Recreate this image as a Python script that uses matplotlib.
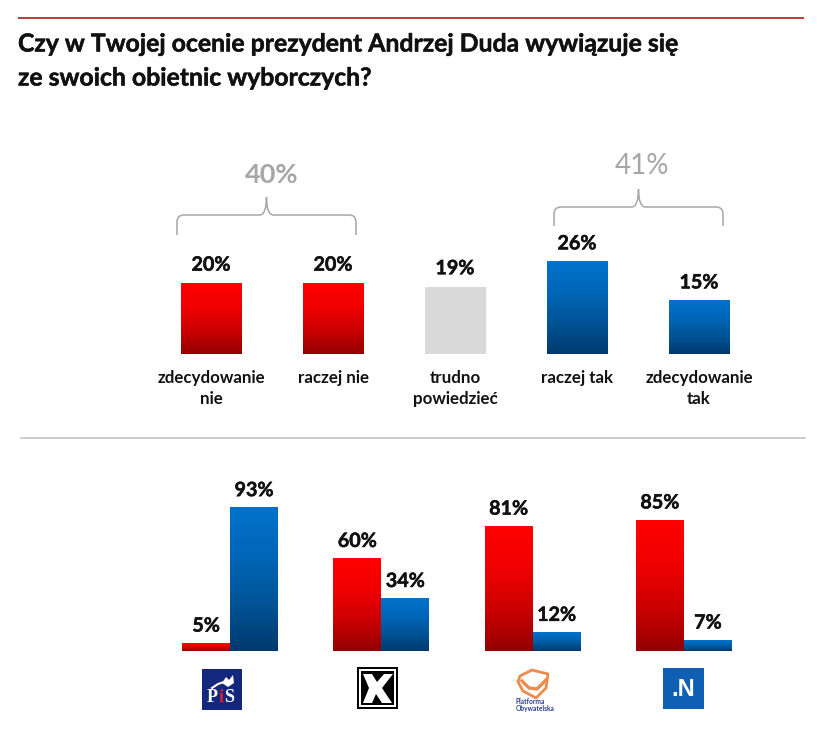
import numpy as np
import matplotlib
matplotlib.use('Agg')
import matplotlib.pyplot as plt
import matplotlib.patheffects as pe
from matplotlib.patches import Rectangle, Polygon, PathPatch
from matplotlib.path import Path

plt.rcParams['font.family'] = ['Lato', 'DejaVu Sans']

W, H = 824, 737

title_lines = ["Czy w Twojej ocenie prezydent Andrzej Duda wywiązuje się",
               "ze swoich obietnic wyborczych?"]

top_labels = ["zdecydowanie\nnie", "raczej nie", "trudno\npowiedzieć", "raczej tak", "zdecydowanie\ntak"]
top_values = [20, 20, 19, 26, 15]
top_kinds = ["red", "red", "grey", "blue", "blue"]
brace_labels = ["40%", "41%"]

parties = ["PiS", "Kukiz", "PO", "N"]
no_values = [5, 60, 81, 85]
yes_values = [93, 34, 12, 7]

gradients = {"red": ["#ff0000", "#f00000", "#cc0000", "#940000"],
             "blue": ["#0072cc", "#0066b8", "#005496", "#003a6e"]}
heavy = [pe.withStroke(linewidth=0.35, foreground='#111111')]


def px_axes(fig, x0, x1, y_top, y_bottom):
    # axes placed with reference pixel edges
    return fig.add_axes([x0 / W, 1 - y_bottom / H, (x1 - x0) / W, (y_bottom - y_top) / H])


def gradient_bars(ax, bars, kinds):
    ramp_cols = {k: matplotlib.colors.LinearSegmentedColormap.from_list(k, v[::-1]) for k, v in gradients.items()}
    ramp = np.linspace(0, 1, 128).reshape(-1, 1)
    xlim, ylim = ax.get_xlim(), ax.get_ylim()
    for bar, kind in zip(bars, kinds):
        if kind not in ramp_cols:
            continue
        x, w, h = bar.get_x(), bar.get_width(), bar.get_height()
        ax.imshow(ramp, cmap=ramp_cols[kind], origin='lower', aspect='auto',
                  extent=(x, x + w, 0, h), zorder=2)
    ax.set_xlim(xlim)
    ax.set_ylim(ylim)


fig = plt.figure(figsize=(W / 100, H / 100), dpi=100, facecolor='white')

# upper chart
ax1 = px_axes(fig, 150, 760, 200, 354)
x1 = np.arange(len(top_values))
ax1.set_xlim(-0.5, 4.5)
ax1.set_ylim(0, 154 / 3.55)
bars1 = ax1.bar(x1, top_values, width=0.5, color='#d9d9d9', zorder=1)
gradient_bars(ax1, bars1, top_kinds)
for xi, v in zip(x1, top_values):
    ax1.annotate(f"{v}%", (xi, v), xytext=(0, 6), textcoords='offset points', ha='center', va='bottom',
                 fontsize=14.2, fontweight='bold', color='#111111', path_effects=heavy)
for xi, lab in zip(x1, top_labels):
    ax1.annotate(lab, (xi, 0), xytext=(0, -11.5), textcoords='offset points', ha='center', va='top',
                 fontsize=12.2, fontweight='bold', color='#111111', linespacing=1.4, annotation_clip=False)
ax1.axis('off')

# lower chart
ax2 = px_axes(fig, 154.5, 759.5, 480, 651)
x2 = np.arange(len(parties))
ax2.set_xlim(-0.5, 3.5)
ax2.set_ylim(0, 171 / 1.54)
bw = 48 / 151.3
bars_no = ax2.bar(x2 - bw / 2, no_values, width=bw, color='#ff0000', zorder=1)
bars_yes = ax2.bar(x2 + bw / 2, yes_values, width=bw, color='#0072cc', zorder=1)
gradient_bars(ax2, bars_no, ["red"] * 4)
gradient_bars(ax2, bars_yes, ["blue"] * 4)
for xi, n, y in zip(x2, no_values, yes_values):
    for pos, v in ((xi - bw / 2, n), (xi + bw / 2, y)):
        ax2.annotate(f"{v}%", (pos, v), xytext=(0, 5.5), textcoords='offset points', ha='center', va='bottom',
                     fontsize=14.2, fontweight='bold', color='#111111', path_effects=heavy)
ax2.axis('off')

# overlay in pixel coordinates: rules, title, braces, logos
ov = fig.add_axes([0, 0, 1, 1], zorder=5)
ov.set_xlim(0, W)
ov.set_ylim(H, 0)
ov.axis('off')
ov.patch.set_alpha(0)

ov.plot([19, 803], [18, 18], color='#c0393b', lw=1.4)
ov.plot([21, 805], [438, 438], color='#c4c4c4', lw=1.2)

ov.text(18, 44, title_lines[0], fontsize=17.85, fontweight='bold', color='#111111', va='center', path_effects=heavy)
ov.text(18, 78, title_lines[1], fontsize=17.85, fontweight='bold', color='#111111', va='center', path_effects=heavy)


def brace(x0, x1, y_end, y_bar, y_tip):
    xm = (x0 + x1) / 2
    r = 7
    verts = [(x0, y_end), (x0, y_bar + r), (x0, y_bar), (x0 + r, y_bar),
             (xm - r, y_bar), (xm, y_bar), (xm, y_tip),
             (xm, y_bar), (xm + r, y_bar),
             (x1 - r, y_bar), (x1, y_bar), (x1, y_bar + r), (x1, y_end)]
    codes = [Path.MOVETO, Path.LINETO, Path.CURVE3, Path.CURVE3,
             Path.LINETO, Path.CURVE3, Path.CURVE3,
             Path.CURVE3, Path.CURVE3,
             Path.LINETO, Path.CURVE3, Path.CURVE3, Path.LINETO]
    ov.add_patch(PathPatch(Path(verts, codes), fc='none', ec='#a6a6a6', lw=1.1))


brace(177, 356, 235, 215, 197)
brace(554, 723, 226, 207, 189)
ov.text(272, 175, brace_labels[0], fontsize=19.5, fontweight='bold', color='#a6a6a6', ha='center', va='center')
ov.text(642, 166, brace_labels[1], fontsize=20, color='#a6a6a6', ha='center', va='center')

# PiS logo
ov.add_patch(Rectangle((202, 669), 40, 41, fc='#14277f', ec='none'))
ov.text(218, 697, "P", fontsize=13, fontweight='bold', color='white', ha='right', va='center', family='Liberation Serif')
ov.text(221, 697, "i", fontsize=13, fontweight='bold', color='#d8202a', ha='center', va='center', family='Liberation Serif')
ov.text(224, 697, "S", fontsize=13, fontweight='bold', color='white', ha='left', va='center', family='Liberation Serif')
ov.add_patch(Polygon([(222, 683), (226, 677), (229, 680), (233, 675), (234, 683), (228, 687)], fc='white', ec='none'))
ov.plot([212, 218, 224], [688, 684, 682], color='white', lw=1.5)

# Kukiz logo
ov.add_patch(Rectangle((358, 668), 39, 40, fc='white', ec='black', lw=1.4))
ov.add_patch(Rectangle((361, 671), 33, 34, fc='black', ec='none'))
ov.add_patch(Polygon([(363, 674), (372, 674), (377, 682), (384, 674), (393, 674), (382, 688),
                      (392, 703), (382, 703), (376, 694), (372, 703), (363, 703), (369, 688)],
                     fc='white', ec='none'))

# PO logo
ov.add_patch(Polygon([(520, 676), (532, 670), (548, 674), (546, 688), (536, 698), (523, 691), (518, 682)],
                     fc='none', ec='#ee8a4a', lw=2.0, joinstyle='round'))
ov.plot([522, 529, 537, 546], [681, 688, 689, 680], color='#ee8a4a', lw=2.4)
ov.text(516, 705, "Platforma\nObywatelska", fontsize=4.8, fontweight='bold', color='#2f3d8f', va='center', linespacing=0.9)

# .N logo
ov.add_patch(Rectangle((663, 668), 41, 41, fc='#0f5fb4', ec='none'))
ov.text(683.5, 689, ".N", fontsize=17, fontweight='bold', color='white', ha='center', va='center', family='Liberation Sans')

fig.savefig('out.png', dpi=100)
